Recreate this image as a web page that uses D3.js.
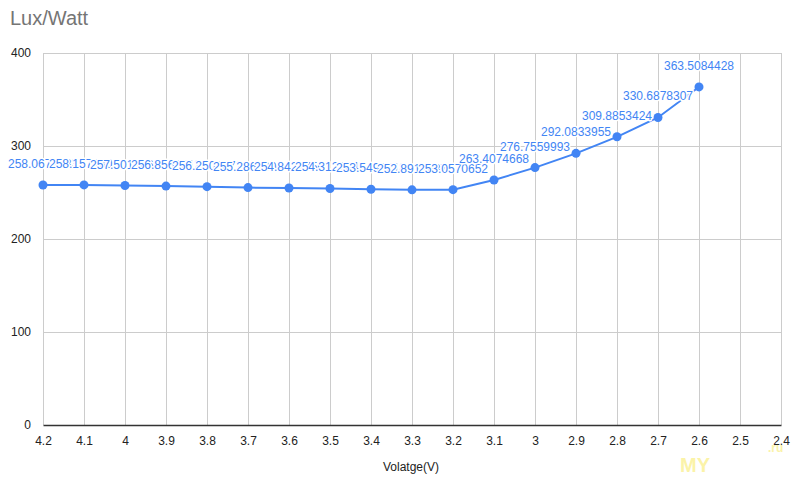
<!DOCTYPE html>
<html><head><meta charset="utf-8">
<script src="https://cdn.jsdelivr.net/npm/d3@7"></script>
<style>body{margin:0;background:#fff}svg{display:block;font-family:"Liberation Sans",Arial,sans-serif}</style>
</head><body>
<svg id="c" width="800" height="480"></svg>
<script>
const voltages = [4.2,4.1,4.0,3.9,3.8,3.7,3.6,3.5,3.4,3.3,3.2,3.1,3.0,2.9,2.8,2.7,2.6];
const luxPerWatt = [258.0672133,258.1574302,257.5012468,256.8560312,256.2503871,255.2863904,254.8421756,254.3127045,253.5496218,252.8912637,253.0570652,263.4074668,276.7559993,292.0833955,309.8853424,330.6878307,363.5084428];
const xTicks = [4.2,4.1,4,3.9,3.8,3.7,3.6,3.5,3.4,3.3,3.2,3.1,3,2.9,2.8,2.7,2.6,2.5,2.4];
const yTicks = [0,100,200,300,400];
const title = "Lux/Watt";
const xTitle = "Volatge(V)";

const svg = d3.select("#c");
const x = d3.scaleLinear().domain([4.2,2.4]).range([43,781]);
const y = d3.scaleLinear().domain([0,400]).range([425,53]);
const blue = "#4285F4";

// grid
svg.append("g").selectAll("line.v").data(xTicks).join("line")
  .attr("x1",d=>x(d)).attr("x2",d=>x(d)).attr("y1",y(400)).attr("y2",y(0))
  .attr("stroke","#cccccc").attr("stroke-width",1).attr("shape-rendering","crispEdges");
svg.append("g").selectAll("line.h").data(yTicks.filter(d=>d>0)).join("line")
  .attr("x1",x(4.2)).attr("x2",x(2.4)).attr("y1",d=>y(d)).attr("y2",d=>y(d))
  .attr("stroke","#cccccc").attr("stroke-width",1).attr("shape-rendering","crispEdges");

// axes
const yAxis = d3.axisLeft(y).tickValues(yTicks).tickSize(0).tickPadding(12);
const gy = svg.append("g").attr("transform",`translate(${x(4.2)},0)`).call(yAxis);
gy.select(".domain").remove();
gy.selectAll("text").attr("font-size",12).attr("fill","#222").attr("font-family","Liberation Sans, Arial, sans-serif");

const xAxis = d3.axisBottom(x).tickValues(xTicks).tickSize(0).tickPadding(11).tickFormat(d=>String(d));
const gx = svg.append("g").attr("transform",`translate(0,${y(0)})`).call(xAxis);
gx.select(".domain").attr("stroke","#333").attr("stroke-width",1.5);
gx.selectAll("text").attr("font-size",12).attr("fill","#222").attr("font-family","Liberation Sans, Arial, sans-serif");

// title
svg.append("text").attr("x",10).attr("y",25).text(title)
  .attr("font-size",20).attr("fill","#757575");
svg.append("text").attr("x",411).attr("y",471).attr("text-anchor","middle").text(xTitle)
  .attr("font-size",12).attr("fill","#222");

// watermark
svg.append("text").attr("x",680).attr("y",472).text("MY").attr("font-size",20).attr("font-weight","bold").attr("fill","#fbf3a8");
svg.append("text").attr("x",768).attr("y",452).text(".ru").attr("font-size",12).attr("font-weight","bold").attr("fill","#fbf3a8");

// line
const data = voltages.map((v,i)=>({v, val: luxPerWatt[i]}));
svg.append("path").datum(data)
  .attr("fill","none").attr("stroke",blue).attr("stroke-width",2)
  .attr("d", d3.line().x(d=>x(d.v)).y(d=>y(d.val)));
svg.append("g").selectAll("circle").data(data).join("circle")
  .attr("cx",d=>x(d.v)).attr("cy",d=>y(d.val)).attr("r",4.5).attr("fill",blue);

// labels
const lg = svg.append("g");
data.forEach(d=>{
  lg.append("text").attr("x",x(d.v)).attr("y",y(d.val)-17)
    .attr("text-anchor","middle").attr("font-size",12)
    .attr("fill",blue).attr("stroke","#fff").attr("stroke-width",3)
    .attr("paint-order","stroke").attr("stroke-linejoin","round")
    .text(d.val.toFixed(7));
});
</script>
</body></html>
